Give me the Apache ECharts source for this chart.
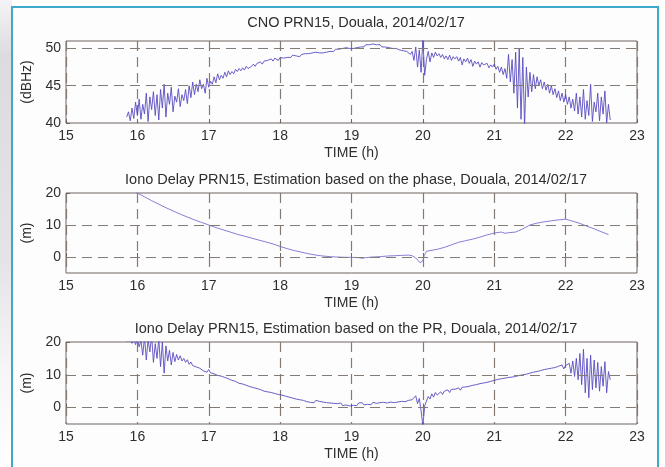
<!DOCTYPE html>
<html>
<head>
<meta charset="utf-8">
<script src="https://cdn.jsdelivr.net/npm/echarts@6/dist/echarts.min.js"></script>
<style>
  html, body { margin: 0; padding: 0; background: #ffffff; }
  #chart { width: 665px; height: 467px; }
</style>
</head>
<body>
<div id="chart"></div>
<script>
// Sample times (h) shared by the C/N0 and pseudorange records
const timeH = [
  15.85,15.875,15.9,15.925,15.95,15.975,16,16.025,
  16.05,16.075,16.1,16.125,16.15,16.175,16.2,16.225,
  16.25,16.275,16.3,16.325,16.35,16.375,16.4,16.425,
  16.45,16.475,16.5,16.525,16.55,16.575,16.6,16.625,
  16.65,16.675,16.7,16.725,16.75,16.775,16.8,16.825,
  16.85,16.875,16.9,16.925,16.95,16.975,17,17.025,
  17.05,17.075,17.1,17.125,17.15,17.175,17.2,17.225,
  17.25,17.275,17.3,17.325,17.35,17.375,17.4,17.425,
  17.45,17.475,17.5,17.525,17.55,17.575,17.6,17.625,
  17.65,17.675,17.7,17.725,17.75,17.775,17.8,17.825,
  17.85,17.875,17.9,17.925,17.95,17.975,18,18.025,
  18.05,18.075,18.1,18.125,18.15,18.175,18.2,18.225,
  18.25,18.275,18.3,18.325,18.35,18.375,18.4,18.425,
  18.45,18.475,18.5,18.525,18.55,18.575,18.6,18.625,
  18.65,18.675,18.7,18.725,18.75,18.775,18.8,18.825,
  18.85,18.875,18.9,18.925,18.95,18.975,19,19.025,
  19.05,19.075,19.1,19.125,19.15,19.175,19.2,19.225,
  19.25,19.275,19.3,19.325,19.35,19.375,19.4,19.425,
  19.45,19.475,19.5,19.525,19.55,19.575,19.6,19.625,
  19.65,19.675,19.7,19.725,19.75,19.775,19.8,19.825,
  19.85,19.875,19.9,19.925,19.95,19.975,20,20.025,
  20.05,20.075,20.1,20.125,20.15,20.175,20.2,20.225,
  20.25,20.275,20.3,20.325,20.35,20.375,20.4,20.425,
  20.45,20.475,20.5,20.525,20.55,20.575,20.6,20.625,
  20.65,20.675,20.7,20.725,20.75,20.775,20.8,20.825,
  20.85,20.875,20.9,20.925,20.95,20.975,21,21.025,
  21.05,21.075,21.1,21.125,21.15,21.175,21.2,21.225,
  21.25,21.275,21.3,21.325,21.35,21.375,21.4,21.425,
  21.45,21.475,21.5,21.525,21.55,21.575,21.6,21.625,
  21.65,21.675,21.7,21.725,21.75,21.775,21.8,21.825,
  21.85,21.875,21.9,21.925,21.95,21.975,22,22.025,
  22.05,22.075,22.1,22.125,22.15,22.175,22.2,22.225,
  22.25,22.275,22.3,22.325,22.35,22.375,22.4,22.425,
  22.45,22.475,22.5,22.525,22.55,22.575,22.6,22.625
];

// C/N0 of PRN15 (dBHz)
const cno = [
  40.8,41.5,40.3,42.0,40.6,42.8,41.0,43.2,
  40.5,42.5,41.2,44.0,40.2,43.5,41.8,44.2,
  41.0,43.8,40.4,44.5,42.0,45.2,40.8,44.0,
  42.5,44.8,41.5,43.6,42.8,44.6,42.2,43.8,
  43.0,44.5,42.6,45.0,43.4,45.5,43.8,45.2,
  44.2,45.8,44.6,45.2,44.0,46.0,44.8,45.6,
  45.2,46.2,45.4,46.6,45.8,46.4,46.0,46.8,
  46.2,47.0,46.5,46.9,46.6,47.2,46.9,47.3,
  47.0,47.4,47.1,47.6,47.3,47.5,47.6,47.9,
  47.6,48.0,47.8,48.2,47.9,48.3,48.1,48.4,
  48.2,48.6,48.3,48.7,48.5,48.4,48.8,48.6,
  48.7,48.9,48.8,49.0,48.8,49.1,48.9,49.0,
  49.1,48.9,49.2,49.0,49.3,49.1,49.3,49.2,
  49.4,49.2,49.5,49.3,49.4,49.6,49.4,49.6,
  49.5,49.7,49.6,49.8,49.6,49.9,49.7,49.9,
  49.8,50.0,49.9,50.1,49.9,50.0,50.2,50.0,
  50.2,50.1,50.3,50.2,50.4,50.2,50.5,50.3,
  50.5,50.3,50.6,50.4,50.5,50.3,50.5,50.2,
  50.4,50.2,50.3,50.1,50.3,50.0,50.2,50.0,
  50.1,49.8,50.0,49.7,49.9,49.6,49.8,49.2,
  49.6,48.4,50.2,47.5,49.8,46.8,51.2,46.4,
  48.5,49.6,48.2,49.4,48.8,49.5,49.0,49.3,
  48.8,49.2,48.6,49.0,48.5,49.1,48.4,48.9,
  48.6,48.9,48.3,48.8,47.8,48.6,48.2,48.7,
  48.0,48.5,47.6,48.3,47.9,48.2,47.5,48.1,
  47.8,47.6,48.0,47.4,47.8,47.5,47.9,47.2,
  47.6,46.8,47.5,46.5,47.3,46.0,49.2,45.5,
  48.5,44.0,49.5,42.0,50.0,40.5,48.8,39.5,
  47.5,43.5,46.8,44.2,46.5,44.6,46.2,45.0,
  45.8,44.6,45.5,44.4,45.2,44.0,45.0,43.8,
  44.6,43.4,44.3,43.0,44.0,42.8,43.8,42.5,
  43.5,42.0,43.2,41.6,44.0,41.2,43.5,40.8,
  44.5,40.5,43.0,41.0,45.2,40.2,42.8,41.5,
  44.0,40.3,43.5,41.2,44.3,40.0,42.5,40.4
];

// Ionospheric delay from the pseudorange (m)
const ionoPR = [
  20.2,19.8,20.4,19.6,20.8,19.2,21.0,18.5,
  20.5,16.0,21.5,14.5,20.8,17.0,22.0,13.8,
  19.5,15.0,21.0,12.5,20.0,10.5,18.8,14.2,
  17.5,13.0,16.8,14.0,16.2,14.5,15.8,14.2,
  15.0,13.8,14.6,13.2,13.9,12.8,13.4,12.4,
  12.8,12.0,12.4,11.2,11.8,10.8,11.6,10.6,
  10.9,10.3,10.6,9.8,10.2,9.6,9.9,9.2,
  9.4,8.8,9.0,8.3,8.6,8.0,8.2,7.4,
  7.8,7.2,7.5,6.8,7.0,6.4,6.7,6.1,
  6.4,5.8,6.0,5.5,5.7,5.0,5.3,4.8,
  5.0,4.6,4.8,4.3,4.5,4.0,4.2,3.8,
  4.0,3.5,3.7,3.2,3.4,2.9,3.1,2.6,
  2.9,2.4,2.6,2.2,2.4,1.8,2.1,1.6,
  1.9,1.5,2.2,1.6,1.9,1.3,1.7,1.2,
  1.5,1.0,1.4,0.8,1.3,0.7,1.2,0.9,
  1.4,0.6,1.1,0.8,1.3,0.5,1.0,0.7,
  1.2,0.6,1.4,0.9,1.5,0.8,1.2,1.0,
  1.4,0.9,1.6,1.0,1.3,1.1,1.5,1.0,
  1.6,1.1,1.4,1.2,1.7,1.3,1.5,1.2,
  1.7,1.3,1.9,1.4,1.8,1.5,2.2,1.6,
  2.4,1.8,3.6,1.2,2.8,-1.0,-5.5,0.5,
  2.0,3.4,2.6,4.2,3.2,4.6,3.8,4.4,
  4.8,4.0,5.0,4.4,5.4,4.6,5.6,5.0,
  5.6,5.0,6.0,5.3,6.2,5.6,6.3,5.8,
  6.5,6.0,6.8,6.2,7.0,6.6,7.3,6.9,
  7.5,7.0,7.7,7.2,8.0,7.5,8.3,7.8,
  8.6,8.0,8.8,8.3,9.0,8.4,9.2,8.7,
  9.3,8.9,9.5,9.1,9.8,9.3,10.0,9.6,
  10.2,9.8,10.5,10.1,10.8,10.4,11.0,10.7,
  11.3,10.9,11.6,11.2,11.8,11.3,12.0,11.5,
  12.2,11.8,12.6,12.0,13.0,11.8,12.8,12.4,
  13.5,10.5,14.2,9.5,15.0,8.5,16.5,7.0,
  17.8,4.5,15.0,3.0,16.0,5.5,14.5,6.0,
  13.8,5.0,12.5,6.5,14.0,4.5,11.0,8.5
];

// Ionospheric delay from the carrier phase: sample times (h) and values (m)
const phaseTimeH = [
  15.95,16.0,16.1,16.2,16.3,16.4,16.5,16.6,16.7,16.8,16.9,17.0,
  17.1,17.2,17.3,17.4,17.5,17.6,17.7,17.8,17.9,18.0,18.1,18.2,
  18.3,18.4,18.5,18.6,18.7,18.8,18.9,19.0,19.1,19.15,19.2,19.3,
  19.4,19.5,19.6,19.7,19.8,19.85,19.9,19.93,19.96,19.98,20.0,20.02,
  20.05,20.1,20.2,20.3,20.4,20.5,20.6,20.7,20.8,20.9,21.0,21.1,
  21.15,21.2,21.3,21.4,21.5,21.6,21.7,21.8,21.9,22.0,22.05,22.1,
  22.2,22.3,22.4,22.5,22.6
];
const ionoPhase = [
  21.0,20.0,18.8,17.6,16.5,15.4,14.4,13.4,12.5,11.6,10.8,10.0,
  9.2,8.5,7.8,7.1,6.5,5.9,5.3,4.7,4.1,3.3,2.6,2.0,
  1.5,1.0,0.6,0.3,0.1,0.0,-0.1,-0.1,-0.2,-0.4,-0.2,0.0,
  0.1,0.3,0.4,0.5,0.6,0.4,-0.3,-1.0,-1.8,-2.3,-1.2,0.5,
  1.8,2.0,2.4,3.0,3.8,4.6,5.1,5.6,6.2,6.9,7.5,7.8,
  7.4,7.6,7.8,8.8,10.0,10.6,11.0,11.3,11.6,11.8,11.5,11.2,
  10.5,9.6,8.8,7.9,7.0
];

const panelTitles = [
  'CNO PRN15, Douala, 2014/02/17',
  'Iono Delay PRN15, Estimation based on the phase, Douala, 2014/02/17',
  'Iono Delay PRN15, Estimation based on the PR, Douala, 2014/02/17'
];
const yNames = ['(dBHz)', '(m)', '(m)'];
// [min, max, step between labelled ticks]
const yRanges = [[40, 51, 5], [-5, 20, 10], [-5, 20, 10]];
const xTicks = [15, 16, 17, 18, 19, 20, 21, 22, 23];
const xName = 'TIME (h)';

const pair = (xs, ys) => xs.map((x, i) => [x, ys[i]]);

const FONT = 'Liberation Sans, Arial, sans-serif';
const TXT = '#2e2e2e';
const BOX = '#6f6560';
const GRIDC = '#857b75';
const LINE = '#5549c0';
const LINE_PHASE = '#766cd0';
const DASH = [10, 6];

const grids = [
  { left: 66, width: 571, top: 41, height: 82 },
  { left: 66, width: 571, top: 193, height: 80 },
  { left: 66, width: 571, top: 342, height: 82 }
].map(g => Object.assign(g, {
  show: true, borderColor: BOX, borderWidth: 1, backgroundColor: 'transparent'
}));

const xAxes = grids.map((g, i) => ({
  type: 'value', gridIndex: i,
  min: xTicks[0], max: xTicks[xTicks.length - 1], interval: 1,
  name: xName, nameLocation: 'middle', nameGap: 23,
  nameTextStyle: { color: TXT, fontFamily: FONT, fontSize: 14 },
  axisLine: { show: false },
  axisTick: { show: true, inside: true, length: 4, lineStyle: { color: BOX } },
  axisLabel: { color: TXT, fontFamily: FONT, fontSize: 14, margin: 6 },
  splitLine: { show: true, lineStyle: { color: GRIDC, type: DASH, width: 1.2 } }
}));

// Tick values that carry labels and horizontal grid lines on each panel
const yTickValues = yRanges.map(([lo, hi, st]) => {
  const out = [];
  for (let v = Math.ceil(lo / st) * st; v <= hi; v += st) out.push(v);
  return out;
});

const yAxes = grids.map((g, i) => ({
  type: 'value', gridIndex: i,
  min: yRanges[i][0], max: yRanges[i][1], interval: 5,
  name: yNames[i], nameLocation: 'middle', nameGap: 29, nameRotate: 90,
  nameTextStyle: { color: TXT, fontFamily: FONT, fontSize: 14 },
  axisLine: { show: false },
  axisTick: {
    show: true, inside: true, length: 4, lineStyle: { color: BOX },
    customValues: yTickValues[i]
  },
  axisLabel: {
    color: TXT, fontFamily: FONT, fontSize: 14, margin: 5,
    customValues: yTickValues[i]
  },
  splitLine: { show: false }
}));

const titles = panelTitles.map((t, i) => ({
  text: t, left: 351, textAlign: 'center',
  top: [10, 167, 316][i],
  textStyle: { color: TXT, fontFamily: FONT, fontSize: 14.5, fontWeight: 'normal' }
}));

const lineSeries = (xi, data, color) => ({
  type: 'line', xAxisIndex: xi, yAxisIndex: xi, data: data,
  showSymbol: false, symbol: 'none', clip: true, animation: false,
  lineStyle: { color: color, width: 1, opacity: 0.88 },
  markLine: {
    silent: true, symbol: 'none', animation: false,
    label: { show: false },
    lineStyle: { color: GRIDC, type: DASH, width: 1.2 },
    data: yTickValues[xi]
      .filter(v => v > yRanges[xi][0] && v < yRanges[xi][1])
      .map(v => ({ yAxis: v }))
  }
});

const chart = echarts.init(document.getElementById('chart'), null, { renderer: 'canvas' });
chart.setOption({
  animation: false,
  backgroundColor: '#ffffff',
  graphic: [
    {
      type: 'rect', z: -10, silent: true,
      shape: { x: 0, y: 0, width: 12, height: 467 },
      style: {
        fill: new echarts.graphic.LinearGradient(0, 0, 0, 1, [
          { offset: 0, color: '#f4f4f6' },
          { offset: 0.12, color: '#dcdce0' },
          { offset: 0.55, color: '#e4e4e8' },
          { offset: 0.8, color: '#f6f6f8' },
          { offset: 1, color: '#ffffff' }
        ])
      }
    },
    {
      type: 'rect', z: -9, silent: true,
      shape: { x: 12, y: 7, width: 646, height: 470 },
      style: { fill: '#fdfdfd', stroke: '#3fa9c9', lineWidth: 2 }
    }
  ],
  title: titles,
  grid: grids,
  xAxis: xAxes,
  yAxis: yAxes,
  series: [
    lineSeries(0, pair(timeH, cno), LINE),
    lineSeries(1, pair(phaseTimeH, ionoPhase), LINE_PHASE),
    lineSeries(2, pair(timeH, ionoPR), LINE)
  ]
});
</script>
</body>
</html>
